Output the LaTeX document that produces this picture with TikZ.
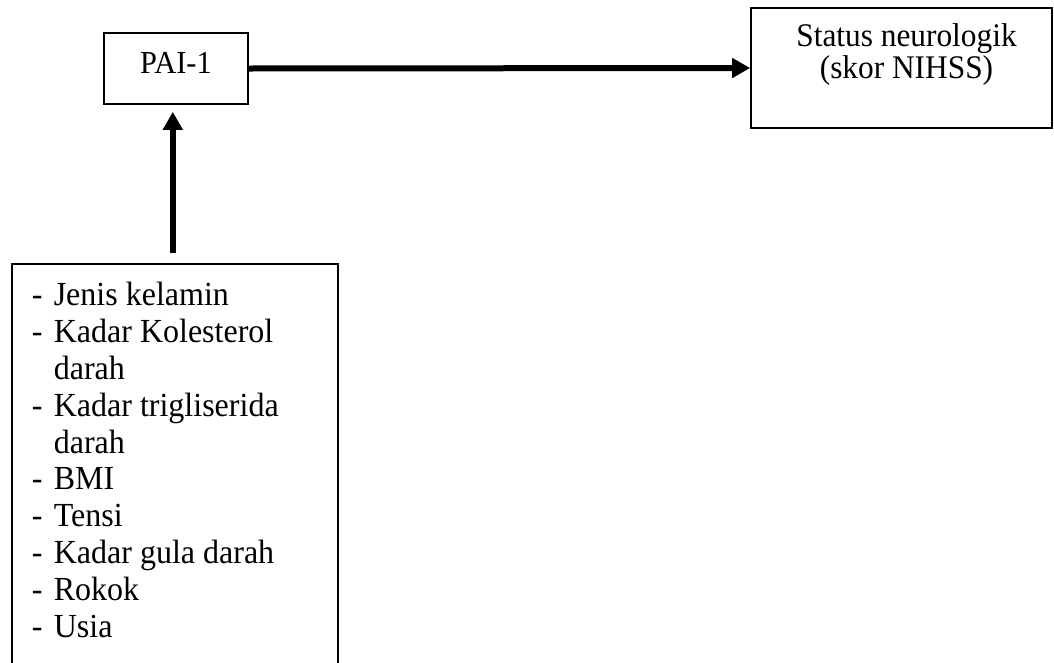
\documentclass[tikz,border=0pt]{standalone}
\usepackage{fontspec}
\setmainfont{Liberation Serif}[FakeStretch=0.95]
\usetikzlibrary{arrows.meta}
\tikzset{
  box/.style={draw, line width=1.6pt, inner sep=0pt, fill=white},
  flow/.style={line width=6pt, -{Triangle[length=18pt,width=19pt]}},
}
\begin{document}
\begin{tikzpicture}[x=1pt, y=-1pt]
  \useasboundingbox (0,0) rectangle (1054,662);
  \clip (0,0) rectangle (1054,662);
  \fill[white] (0,0) rectangle (1054,662);

  % exposure
  \node[box, anchor=base, minimum width=144pt, text height=40pt, text depth=31pt,
        font=\fontsize{32}{36}\selectfont] (pai) at (176,73) {PAI-1};

  % outcome
  \node[box, anchor=base, minimum width=301pt, text height=38pt, text depth=82pt,
        font=\fontsize{33}{32}\selectfont] (status) at (901.5,46)
        {\begin{tabular}[t]{@{}c@{}}\hspace*{10pt}Status neurologik\\\hspace*{10pt}(skor NIHSS)\end{tabular}};

  % confounding factors
  \node[box, anchor=north west, text width=286pt, inner xsep=20pt,
        text height=42pt, text depth=380pt,
        font=\fontsize{33.7}{36.8}\selectfont] (list) at (11,263)
        {\spaceskip=0pt\xspaceskip=0pt
         \begin{tabular}[t]{@{}p{22pt}@{}l@{}}
          - & Jenis kelamin\\
          - & Kadar Kolesterol\\
            & darah\\
          - & Kadar trigliserida\\
            & darah\\
          - & BMI\\
          - & Tensi\\
          - & Kadar gula darah\\
          - & Rokok\\
          - & Usia
        \end{tabular}};

  % connectors
  \draw[flow] (pai.east) -- (status.west);
  \draw[flow, shorten <=10pt, shorten >=7pt]
    ([xshift=-2pt]list.north) -- ([xshift=-2pt]list.north |- pai.south);
\end{tikzpicture}
\end{document}
